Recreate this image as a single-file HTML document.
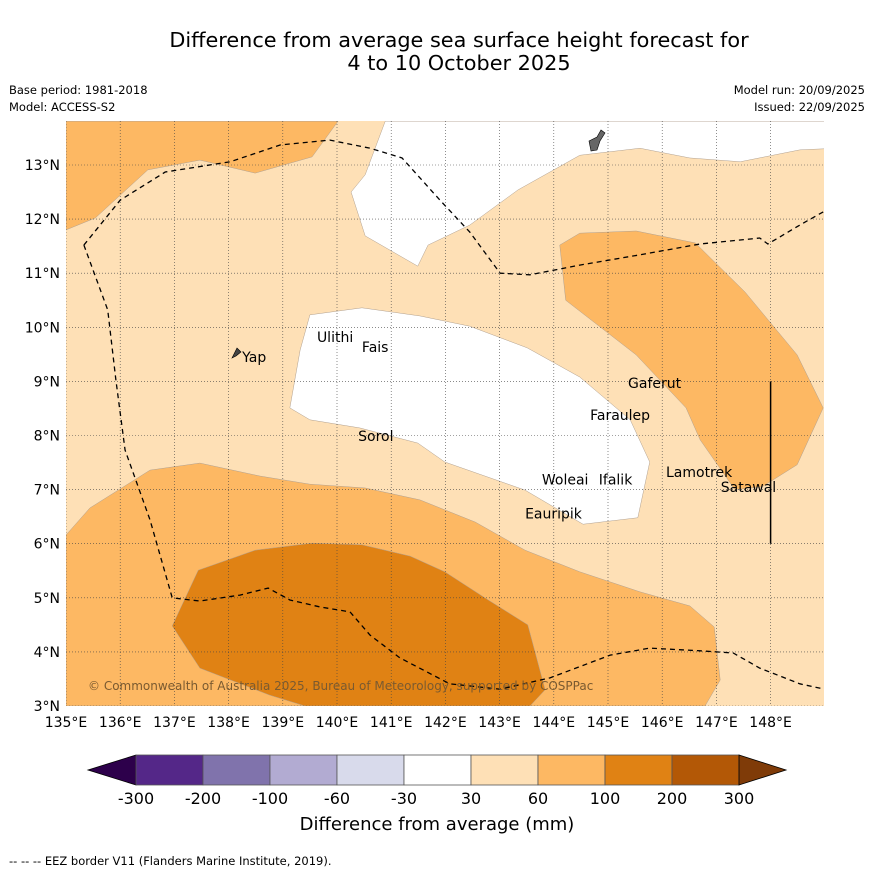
<!DOCTYPE html>
<html><head><meta charset="utf-8"><style>
body{margin:0;background:#fff;font-family:"DejaVu Sans","Liberation Sans",sans-serif;}
svg text{font-family:"DejaVu Sans","Liberation Sans",sans-serif;}
</style></head><body>
<svg id="chart" width="873" height="873" xmlns="http://www.w3.org/2000/svg">
<rect width="873" height="873" fill="#fff"/>
<text x="459" y="47" font-size="20.8" text-anchor="middle">Difference from average sea surface height forecast for</text>
<text x="459" y="70" font-size="20.8" text-anchor="middle">4 to 10 October 2025</text>
<text x="9" y="94" font-size="11.5">Base period: 1981-2018</text>
<text x="9" y="111" font-size="11.5">Model: ACCESS-S2</text>
<text x="865" y="94" font-size="11.5" text-anchor="end">Model run: 20/09/2025</text>
<text x="865" y="111" font-size="11.5" text-anchor="end">Issued: 22/09/2025</text>
<defs><clipPath id="mapclip"><rect x="66" y="121" width="758" height="585"/></clipPath></defs>
<g id="map" clip-path="url(#mapclip)"></g>
<g id="axes"></g>
<g id="cbar"></g>
<text x="437" y="830" font-size="18" text-anchor="middle">Difference from average (mm)</text>
<text x="9" y="865" font-size="11.5">--  --  -- EEZ border V11 (Flanders Marine Institute, 2019).</text>
</svg>
<script>
const lonTicks=[135,136,137,138,139,140,141,142,143,144,145,146,147,148];
const latTicks=[3,4,5,6,7,8,9,10,11,12,13];
const bandColors=['#2d004b','#542788','#8073ac','#b2abd2','#d8daeb','#ffffff','#fee0b6','#fdb863','#e08214','#b35806','#7f3b08'];
const bandLabels=['-300','-200','-100','-60','-30','30','60','100','200','300'];
const topLeftOrange=[[135,13.81],[140.02,13.81],[139.54,13.15],[138.49,12.85],[137.47,13.09],[136.51,12.91],[135.54,12.02],[135,11.8]];
const topWhite=[[140.89,13.81],[140.52,12.82],[140.26,12.5],[140.52,11.69],[141.49,11.13],[141.68,11.52],[142.45,11.89],[143.34,12.54],[144.48,13.18],[145.59,13.31],[146.51,13.13],[147.44,13.06],[148.54,13.28],[149,13.3],[149,13.81]];
const rightOrange=[[144.11,11.52],[144.48,11.74],[145.52,11.78],[146.61,11.56],[147.53,10.65],[148.49,9.49],[148.97,8.51],[148.49,7.46],[147.84,7.05],[147.34,7.0],[146.7,7.92],[146.44,8.51],[145.52,9.49],[144.22,10.5]];
const centralWhite=[[139.5,10.23],[140.46,10.36],[141.53,10.21],[142.45,10.02],[143.51,9.62],[144.48,9.08],[145.41,8.29],[145.77,7.51],[145.55,6.48],[144.54,6.36],[143.47,6.99],[141.99,7.51],[141.49,7.86],[140.42,8.14],[139.5,8.29],[139.13,8.51],[139.32,9.58]];
const bottomOrange=[[135,6.16],[135.44,6.66],[136.55,7.36],[137.47,7.49],[138.58,7.25],[139.5,7.1],[140.52,7.03],[141.53,6.81],[142.55,6.4],[143.47,5.88],[144.48,5.48],[145.59,5.11],[146.51,4.85],[146.96,4.46],[147.07,3.48],[146.79,3],[135,3]];
const darkOrange=[[136.96,4.48],[137.44,5.51],[138.49,5.88],[139.54,6.01],[140.46,5.98],[141.35,5.77],[141.99,5.48],[142.79,4.96],[143.52,4.5],[143.84,3.3],[143.56,3],[139.41,3],[138.76,3.2],[137.47,3.7]];
const eezTop=[[135.33,11.52],[136.0,12.35],[136.83,12.87],[138.03,13.06],[138.95,13.37],[139.87,13.46],[140.61,13.31],[141.2,13.13],[141.9,12.35],[142.45,11.76],[143.01,11.0],[143.56,10.97],[144.48,11.15],[145.59,11.34],[146.7,11.54],[147.8,11.65],[147.95,11.54],[148.54,11.89],[149,12.15]];
const eezWest=[[135.33,11.52],[135.77,10.32],[135.92,9.03],[136.09,7.73],[136.55,6.44],[136.96,5.0],[137.47,4.94],[138.21,5.05],[138.73,5.18],[139.13,4.96],[139.69,4.83],[140.24,4.74],[140.61,4.31],[141.16,3.89],[142.08,3.41],[143.01,3.31],[143.93,3.52],[145.04,3.94],[145.77,4.07],[146.7,4.02],[147.31,3.98],[147.8,3.7],[148.54,3.41],[149,3.31]];
const places=[["Ulithi",139.63,9.73],["Fais",140.46,9.54],["Yap",138.25,9.36],["Sorol",140.39,7.9],["Gaferut",145.37,8.88],["Faraulep",144.67,8.29],["Woleai",143.78,7.09],["Ifalik",144.83,7.09],["Lamotrek",146.07,7.23],["Satawal",147.08,6.96],["Eauripik",143.47,6.47]];
const xs=lon=>66+(lon-135)*54.2;
const ys=lat=>706-(lat-3)*54.1;
const NS='http://www.w3.org/2000/svg';
function mk(tag,attrs,parent){const e=document.createElementNS(NS,tag);for(const k in attrs)e.setAttribute(k,attrs[k]);parent.appendChild(e);return e;}
const map=document.getElementById('map');
let r=mk('rect',{x:66,y:121,width:758,height:585,fill:'#fee0b6'},map);


function poly(pts,fill,name){const p=mk('polygon',{points:pts.map(q=>xs(q[0])+','+ys(q[1])).join(' '),fill:fill,stroke:'#b0a090','stroke-width':0.5},map);

}
poly(topLeftOrange,'#fdb863','contour-60-100-northwest');
poly(topWhite,'#ffffff','contour-neutral-north');
poly(rightOrange,'#fdb863','contour-60-100-east');
poly(bottomOrange,'#fdb863','contour-60-100-south');
poly(darkOrange,'#e08214','contour-100-200-south');
poly(centralWhite,'#ffffff','contour-neutral-central');
lonTicks.forEach(l=>{const g=mk('line',{x1:xs(l),x2:xs(l),y1:121,y2:706,stroke:'#444','stroke-width':0.6,'stroke-dasharray':'1,2'},map);

});
latTicks.forEach(l=>{const g=mk('line',{x1:66,x2:824,y1:ys(l),y2:ys(l),stroke:'#444','stroke-width':0.6,'stroke-dasharray':'1,2'},map);

});
function line(pts,name){const p=mk('polyline',{points:pts.map(q=>xs(q[0])+','+ys(q[1])).join(' '),fill:'none',stroke:'#000','stroke-width':1.3,'stroke-dasharray':'5,4'},map);

}
line(eezTop,'eez-border-north');
line(eezWest,'eez-border-west-south');
let vl=mk('line',{x1:xs(148),x2:xs(148),y1:ys(9),y2:ys(6),stroke:'#000','stroke-width':1.5},map);


let yap=mk('path',{d:'M232,358 L237,348 L241,352 L236,356 Z',fill:'#444',stroke:'#000','stroke-width':0.6},map);


let guam=mk('path',{d:'M589,141 L597,137 L601,130 L605,133 L600,141 L597,150 L591,151 Z',fill:'#666',stroke:'#000','stroke-width':0.6},map);


places.forEach(p=>{const t=mk('text',{x:xs(p[1]),y:ys(p[2]),'font-size':14},map);t.textContent=p[0];

});
let cp=mk('text',{x:88,y:690,'font-size':12,fill:'#7a5a30'},map);cp.textContent='© Commonwealth of Australia 2025, Bureau of Meteorology, supported by COSPPac';


const axes=document.getElementById('axes');
lonTicks.forEach(l=>{const t=mk('text',{x:xs(l),y:727,'font-size':14,'text-anchor':'middle'},axes);t.textContent=l+'°E';

});
latTicks.forEach(l=>{const t=mk('text',{x:60,y:ys(l)+5,'font-size':14,'text-anchor':'end'},axes);t.textContent=l+'°N';

});
const cb=document.getElementById('cbar');
const cbx0=136,cbw=67,cy=755,ch=30;
let lt=mk('polygon',{points:`88,770 ${cbx0},${cy} ${cbx0},${cy+ch}`,fill:bandColors[0],stroke:'#000','stroke-width':0.8},cb);


for(let i=1;i<bandColors.length-1;i++){const b=mk('rect',{x:cbx0+(i-1)*cbw,y:cy,width:cbw,height:ch,fill:bandColors[i],stroke:'#555','stroke-width':0.8},cb);

}
const cbEnd=cbx0+(bandColors.length-2)*cbw;
let rt=mk('polygon',{points:`${cbEnd},${cy} 786,770 ${cbEnd},${cy+ch}`,fill:bandColors[bandColors.length-1],stroke:'#000','stroke-width':0.8},cb);


bandLabels.forEach((s,i)=>{const t=mk('text',{x:cbx0+i*cbw,y:804,'font-size':16,'text-anchor':'middle'},cb);t.textContent=s;

});
</script>
</body></html>
